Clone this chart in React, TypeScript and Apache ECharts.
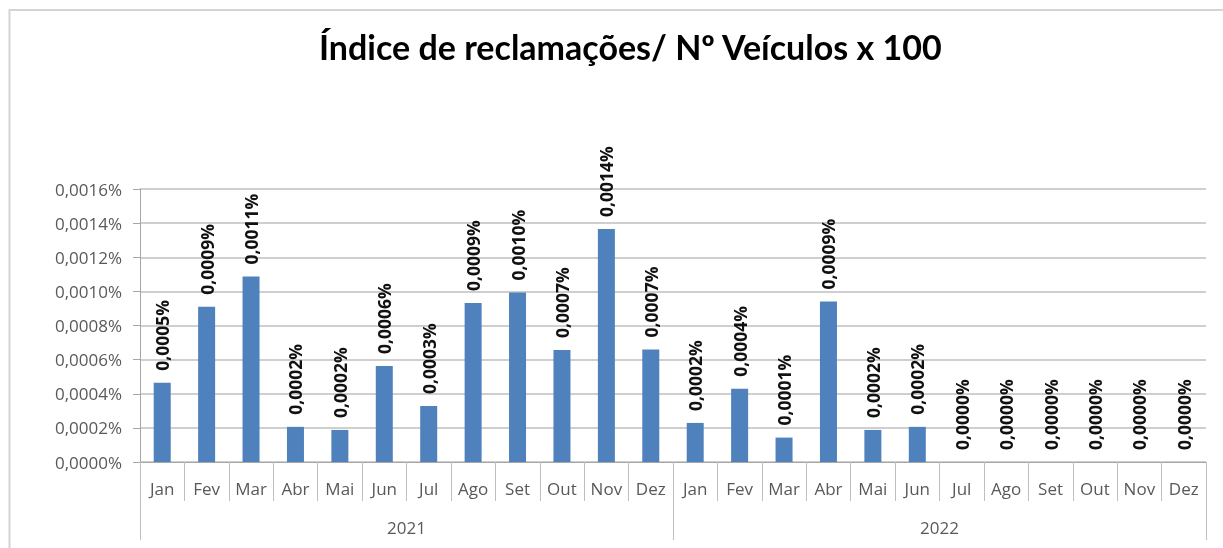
import React, { useEffect, useRef } from "react";
import * as echarts from "echarts";

const months = ["Jan", "Fev", "Mar", "Abr", "Mai", "Jun", "Jul", "Ago", "Set", "Out", "Nov", "Dez"];
const years = ["2021", "2022"];
const values2021 = [0.000464, 0.00091, 0.001087, 0.000206, 0.000188, 0.000562, 0.000328, 0.000932, 0.000993, 0.000656, 0.001365, 0.00066];
const values2022 = [0.000229, 0.000429, 0.000143, 0.00094, 0.000188, 0.000206, 0, 0, 0, 0, 0, 0];
const yTicks = [0, 0.0002, 0.0004, 0.0006, 0.0008, 0.001, 0.0012, 0.0014, 0.0016];

const fmt = (v: number) => v.toFixed(4).replace(".", ",") + "%";

export default function App() {
  const ref = useRef<HTMLDivElement>(null);
  useEffect(() => {
    document.body.style.margin = "0";
    const chart = echarts.init(ref.current!, null, { renderer: "svg" });
    const cats = [...months, ...months];
    const data = [...values2021, ...values2022];
    const grey = "#595959";
    const lineGrey = "#bfbfbf";
    chart.setOption({
      animation: false,
      title: {
        text: "Índice de reclamações/ Nº Veículos x 100",
        left: 314,
        top: 24,
        textStyle: { fontFamily: "Lato", fontWeight: "bold", fontSize: 34, color: "#000" },
      },
      graphic: [
        {
          type: "rect",
          shape: { x: 9.5, y: 10, width: 1300, height: 700 },
          style: { fill: "none", stroke: "#d4d4d4", lineWidth: 2 },
          silent: true,
        },
      ],
      grid: { left: 140, right: 17, top: 189, bottom: 86 },
      xAxis: [
        {
          type: "category",
          data: cats,
          position: "bottom",
          axisLine: { show: true, lineStyle: { color: "#a6a6a6", width: 1 } },
          axisTick: { show: true, interval: 0, length: 39, lineStyle: { color: lineGrey } },
          axisLabel: { interval: 0, margin: 18, fontFamily: "Open Sans", fontSize: 17, color: grey },
        },
        {
          type: "category",
          data: years,
          position: "bottom",
          axisLine: { show: false },
          axisTick: { show: true, interval: 0, length: 78, lineStyle: { color: lineGrey } },
          axisLabel: { interval: 0, margin: 57, fontFamily: "Open Sans", fontSize: 17, color: grey },
        },
      ],
      yAxis: {
        type: "value",
        min: yTicks[0],
        max: yTicks[yTicks.length - 1],
        interval: 0.0002,
        axisLine: { show: true, lineStyle: { color: "#a6a6a6" } },
        axisTick: { show: true, length: 7, lineStyle: { color: "#a6a6a6" } },
        axisLabel: { formatter: (v: number) => fmt(v), fontFamily: "Open Sans", fontSize: 17, color: grey, margin: 18 },
        splitLine: { show: true, lineStyle: { color: lineGrey, width: 1.5 } },
      },
      series: [
        {
          type: "bar",
          xAxisIndex: 0,
          data,
          barWidth: 17,
          itemStyle: { color: "#4f81bd" },
          label: {
            show: true,
            position: "top",
            rotate: 90,
            align: "left",
            verticalAlign: "middle",
            distance: 12,
            formatter: (p: any) => fmt(p.value),
            fontFamily: "Open Sans",
            fontSize: 17.5,
            fontWeight: "bold",
            color: "#111",
          },
        },
      ],
    });
    return () => chart.dispose();
  }, []);
  return <div ref={ref} style={{ position: "fixed", left: 0, top: 0, width: 1223, height: 548 }} />;
}
